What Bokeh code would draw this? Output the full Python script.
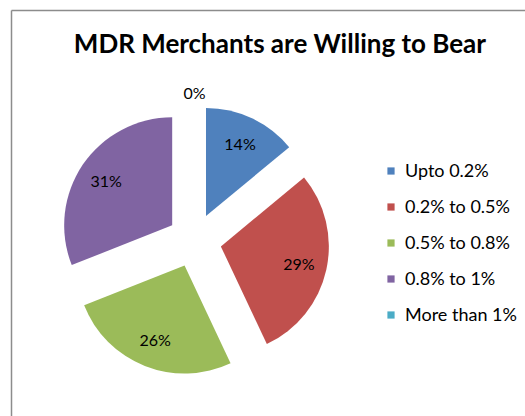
import numpy as np
from bokeh.plotting import figure
from bokeh.models import Range1d, Legend, LegendItem, Label, ColumnDataSource, CDSView, IndexFilter
from bokeh.embed import file_html
from bokeh.resources import INLINE
from bokeh.core.properties import value

title_text = "MDR Merchants are Willing to Bear"
categories = ["Upto 0.2%", "0.2% to 0.5%", "0.5% to 0.8%", "0.8% to 1%", "More than 1%"]
shares = [14, 29, 26, 31, 0]
colors = ["#4F81BD", "#C0504D", "#9BBB59", "#8064A2", "#4BACC6"]

FONT = "Lato"
W, H = 525, 416
p = figure(width=W, height=H, output_backend="svg", toolbar_location=None,
           x_range=Range1d(0, W), y_range=Range1d(0, H), min_border=0,
           x_axis_type=None, y_axis_type=None, outline_line_color=None)
p.grid.visible = False
p.background_fill_color = "white"
p.border_fill_color = "white"

# chart border (top and left edges visible)
p.segment(x0=[11, 11], y0=[406, 406], x1=[W, 11], y1=[406, 0],
          line_color="#8c8c8c", line_width=1.5)

cx, cy, r, explode = 194, 176, 108, 27
total = float(sum(shares))
cum = np.concatenate([[0], np.cumsum(shares)]) / total
start = np.pi / 2 - 2 * np.pi * cum[:-1]
end = np.pi / 2 - 2 * np.pi * cum[1:]
mid = (start + end) / 2
xs = cx + explode * np.cos(mid)
ys = cy + explode * np.sin(mid)
lab_frac = np.array([0.74 if v > 0 else 1.12 for v in shares])
lx = xs + lab_frac * r * np.cos(mid)
ly = ys + lab_frac * r * np.sin(mid)

src = ColumnDataSource(dict(x=xs, y=ys, start=start, end=end, color=colors,
                            cat=categories, lx=lx, ly=ly,
                            lab=[f"{v}%" for v in shares]))
nonzero = [i for i, v in enumerate(shares) if v > 0]
p.wedge(x="x", y="y", radius=r, start_angle="start", end_angle="end",
        direction="clock", fill_color="color", line_color=None, source=src,
        view=CDSView(filter=IndexFilter(nonzero)))
# zero-radius wedges: carry the colours for the legend
lr = p.wedge(x="x", y="y", radius=0, start_angle="start", end_angle="end",
             direction="clock", fill_color="color", line_color=None, source=src)

p.text(x="lx", y="ly", text="lab", source=src, text_align="center",
       text_baseline="middle", text_font=value(FONT), text_font_size="16px",
       text_color="#000000")

p.add_layout(Label(x=279.5, y=374, text=title_text, text_align="center",
                   text_baseline="middle", text_font=FONT, text_font_size="26px",
                   text_font_style="bold", text_color="#000000"))

items = [LegendItem(label=c, renderers=[lr], index=i) for i, c in enumerate(categories)]
legend = Legend(items=items, location=(386, 91), orientation="vertical",
                glyph_width=9, glyph_height=9, label_height=22, spacing=14,
                label_standoff=10, padding=0, margin=0,
                border_line_color=None, background_fill_alpha=0,
                label_text_font=FONT, label_text_font_size="18px",
                label_text_color="#000000")
p.add_layout(legend)

open("out.html", "w").write(file_html(p, INLINE))
